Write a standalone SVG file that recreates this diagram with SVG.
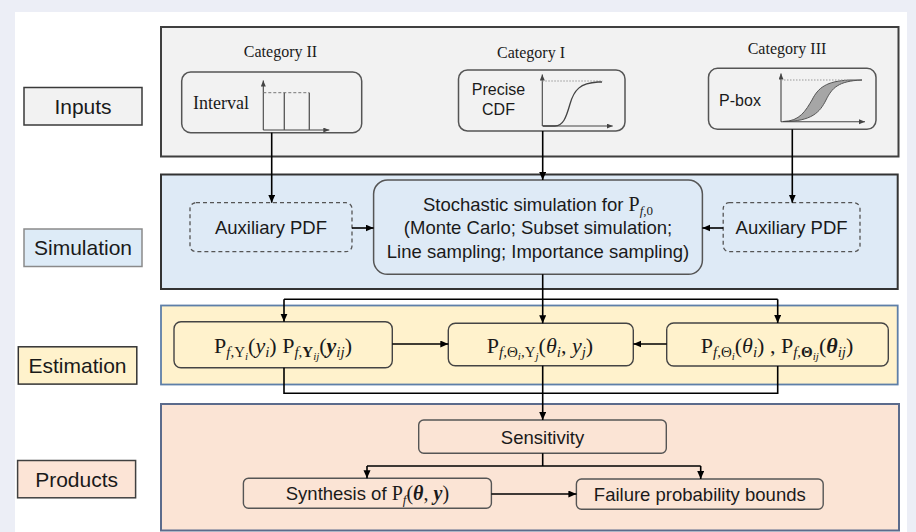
<svg xmlns="http://www.w3.org/2000/svg" width="916" height="532" viewBox="0 0 916 532">
<defs>
<marker id="ah" markerUnits="userSpaceOnUse" markerWidth="9" markerHeight="8" refX="8" refY="3.5" orient="auto">
<path d="M0,0 L8,3.5 L0,7 z" fill="#000"/>
</marker>
<marker id="sa" markerUnits="userSpaceOnUse" markerWidth="7" markerHeight="6" refX="6" refY="2.5" orient="auto">
<path d="M0,0 L6,2.5 L0,5 z" fill="#444"/>
</marker>
<style>
.sans{font-family:"Liberation Sans",Arial,sans-serif;fill:#1a1a1a}
.serif{font-family:"Liberation Serif","Times New Roman",serif;fill:#1a1a1a}
.lbl{font-size:21px}
.t{font-size:18.5px}
.m{font-family:"Liberation Serif","DejaVu Serif",serif;font-size:22px;fill:#1a1a1a}
.s{font-size:15px}
.ss{font-size:11px}
.it{font-style:italic}
.b{font-weight:bold}
.conn{fill:none;stroke:#000;stroke-width:1.6}
.ax{fill:none;stroke:#444;stroke-width:1.1}
.inbox{fill:#F2F2F2;stroke:#555;stroke-width:1.5}
.aux{fill:none;stroke:#555;stroke-width:1.3;stroke-dasharray:4 3}
.estbox{fill:#FFF2CC;stroke:#444;stroke-width:1.4}
.prbox{fill:#FBE4D5;stroke:#555;stroke-width:1.4}
</style>
</defs>
<rect x="0" y="0" width="916" height="532" fill="#ECEEF6"/>
<rect x="15" y="12" width="892" height="520" fill="#FFFFFF"/>

<!-- panels -->
<g id="panel-inputs"><rect x="161" y="27" width="737.5" height="129.5" fill="#F2F2F2" stroke="#3F3F3F" stroke-width="2"/></g>
<g id="panel-simulation"><rect x="161" y="174.5" width="736.7" height="114.5" fill="#DEEAF6" stroke="#333" stroke-width="2"/></g>
<g id="panel-estimation"><rect x="161" y="305.5" width="736.7" height="79" fill="#FFF2CC" stroke="#5E7FA8" stroke-width="1.8"/></g>
<g id="panel-products"><rect x="161" y="404" width="738" height="126.5" fill="#FBE4D5" stroke="#5B6B8C" stroke-width="2"/></g>

<!-- row labels -->
<g id="label-inputs"><rect x="24" y="87.5" width="118" height="37.5" fill="#F2F2F2" stroke="#3a3a3a" stroke-width="1.5"/><text class="sans lbl" x="83" y="113.5" text-anchor="middle">Inputs</text></g>
<g id="label-simulation"><rect x="24" y="229" width="118" height="37.5" fill="#DDEBF7" stroke="#8a8a8a" stroke-width="1.5"/><text class="sans lbl" x="83" y="255" text-anchor="middle">Simulation</text></g>
<g id="label-estimation"><rect x="18.3" y="346.8" width="118.5" height="37.3" fill="#FFF2CC" stroke="#333" stroke-width="1.5"/><text class="sans lbl" x="77.5" y="373" text-anchor="middle">Estimation</text></g>
<g id="label-products"><rect x="17.6" y="460.5" width="118" height="37.3" fill="#FCE4D6" stroke="#404040" stroke-width="1.5"/><text class="sans lbl" x="76.6" y="486.5" text-anchor="middle">Products</text></g>

<!-- inputs -->
<g id="cat2">
<text class="serif" font-size="16" x="280.5" y="57" text-anchor="middle">Category II</text>
<rect class="inbox" x="181.7" y="72" width="180" height="60.7" rx="9"/>
<text class="serif" font-size="18" x="193" y="109.3">Interval</text>
<path class="ax" d="M263.3,130 V80.5" marker-end="url(#sa)"/>
<path class="ax" d="M263.3,130 H329.3" marker-end="url(#sa)"/>
<path d="M263.3,92.7 H309.3" fill="none" stroke="#777" stroke-width="1" stroke-dasharray="3 2"/>
<path d="M284.3,92.7 V130 M309.3,92.7 V130" fill="none" stroke="#555" stroke-width="1.3"/>
</g>
<g id="cat1">
<text class="serif" font-size="16" x="531" y="57.5" text-anchor="middle">Category I</text>
<rect class="inbox" x="458.5" y="70" width="166.5" height="61" rx="9"/>
<text class="sans" font-size="16" x="498.5" y="95" text-anchor="middle">Precise</text>
<text class="sans" font-size="16" x="498.5" y="115" text-anchor="middle">CDF</text>
<path class="ax" d="M542.3,126 V74.5" marker-end="url(#sa)"/>
<path class="ax" d="M542.3,126 H612.7" marker-end="url(#sa)"/>
<path d="M542.3,81 H602.7" fill="none" stroke="#999" stroke-width="1" stroke-dasharray="1.5 1.5"/>
<path d="M543,126 L555,126 C563,126 566,118 570,104 C574,90 580,83 598,82 L602,82" fill="none" stroke="#444" stroke-width="1.3"/>
</g>
<g id="cat3">
<text class="serif" font-size="16" x="787" y="54" text-anchor="middle">Category III</text>
<rect class="inbox" x="708.5" y="68.3" width="167.5" height="61" rx="9"/>
<text class="sans" font-size="16" x="740" y="106" text-anchor="middle">P-box</text>
<path d="M783,121.5 C800,121.5 806,110 812,100 C818,88 826,81 850,80 L862,80 C838,81 832,88 826,100 C820,112 812,121.5 783,121.5 Z" fill="#A6A6A6" stroke="#555" stroke-width="1"/>
<path class="ax" d="M781,121.7 V73.5" marker-end="url(#sa)"/>
<path class="ax" d="M781,121.7 H865" marker-end="url(#sa)"/>
<path d="M781,80 H850" fill="none" stroke="#999" stroke-width="1" stroke-dasharray="1.5 1.5"/>
</g>

<!-- simulation -->
<g id="aux-left">
<rect class="aux" x="190" y="202.7" width="162" height="49" rx="6"/>
<text class="sans t" x="271" y="234" text-anchor="middle">Auxiliary PDF</text>
</g>
<g id="stochastic">
<rect x="373.6" y="180" width="328.8" height="94.3" rx="14" fill="#DEEAF6" stroke="#555" stroke-width="1.5"/>
<text x="538" y="210.5" text-anchor="middle"><tspan class="sans t">Stochastic simulation for </tspan><tspan class="m" style="font-size:20px">P</tspan><tspan class="m it" style="font-size:13px" dy="4">f</tspan><tspan class="m" style="font-size:13px">,0</tspan></text>
<text class="sans t" x="538" y="234.3" text-anchor="middle">(Monte Carlo; Subset simulation;</text>
<text class="sans t" x="538" y="257.7" text-anchor="middle">Line sampling; Importance sampling)</text>
</g>
<g id="aux-right">
<rect class="aux" x="723.2" y="202.7" width="136.8" height="49" rx="6"/>
<text class="sans t" x="791.6" y="234" text-anchor="middle">Auxiliary PDF</text>
</g>

<!-- estimation -->
<g id="est-left">
<rect class="estbox" x="174" y="321.7" width="218.3" height="46" rx="7"/>
<text class="m" x="283" y="353" text-anchor="middle">P<tspan class="it s" dy="4">f</tspan><tspan class="s">,Y</tspan><tspan class="it ss" dy="3">i</tspan><tspan dy="-7">(</tspan><tspan class="it">y</tspan><tspan class="it s" dy="4">i</tspan><tspan dy="-4">) P</tspan><tspan class="it s" dy="4">f</tspan><tspan class="s">,</tspan><tspan class="b s">Y</tspan><tspan class="it ss" dy="3">ij</tspan><tspan dy="-7">(</tspan><tspan class="it b">y</tspan><tspan class="it s" dy="4">ij</tspan><tspan dy="-4">)</tspan></text>
</g>
<g id="est-mid">
<rect class="estbox" x="448.3" y="323.3" width="185" height="42.4" rx="7"/>
<text class="m" x="540" y="353" text-anchor="middle">P<tspan class="it s" dy="4">f</tspan><tspan class="s">,Θ</tspan><tspan class="it ss" dy="3">i</tspan><tspan class="s" dy="-3">,Y</tspan><tspan class="it ss" dy="3">j</tspan><tspan dy="-7">(</tspan><tspan class="it">θ</tspan><tspan class="it s" dy="4">i</tspan><tspan dy="-4">, </tspan><tspan class="it">y</tspan><tspan class="it s" dy="4">j</tspan><tspan dy="-4">)</tspan></text>
</g>
<g id="est-right">
<rect class="estbox" x="666.7" y="323" width="221.6" height="43" rx="7"/>
<text class="m" x="777" y="353" text-anchor="middle">P<tspan class="it s" dy="4">f</tspan><tspan class="s">,Θ</tspan><tspan class="it ss" dy="3">i</tspan><tspan dy="-7">(</tspan><tspan class="it">θ</tspan><tspan class="it s" dy="4">i</tspan><tspan dy="-4">) , P</tspan><tspan class="it s" dy="4">f</tspan><tspan class="s">,</tspan><tspan class="b s">Θ</tspan><tspan class="it ss" dy="3">ij</tspan><tspan dy="-7">(</tspan><tspan class="it b">θ</tspan><tspan class="it s" dy="4">ij</tspan><tspan dy="-4">)</tspan></text>
</g>

<!-- products -->
<g id="sensitivity">
<rect class="prbox" x="418.7" y="420" width="247.6" height="33.3" rx="5"/>
<text class="sans t" x="542.5" y="443.5" text-anchor="middle">Sensitivity</text>
</g>
<g id="synthesis">
<rect class="prbox" x="243.4" y="478.3" width="248" height="30" rx="5"/>
<text x="367.4" y="500" text-anchor="middle"><tspan class="sans t">Synthesis of </tspan><tspan class="m" style="font-size:20px">P</tspan><tspan class="m it" style="font-size:13px" dy="4">f</tspan><tspan class="m" style="font-size:20px" dy="-4">(</tspan><tspan class="m it b" style="font-size:20px">θ</tspan><tspan class="m" style="font-size:20px">, </tspan><tspan class="m it b" style="font-size:20px">y</tspan><tspan class="m" style="font-size:20px">)</tspan></text>
</g>
<g id="bounds">
<rect class="prbox" x="576.4" y="479" width="246.8" height="30.3" rx="5"/>
<text class="sans t" x="699.8" y="501" text-anchor="middle">Failure probability bounds</text>
</g>

<!-- connectors -->
<g id="connectors">
<path class="conn" d="M271.7,132.7 V202.7" marker-end="url(#ah)"/>
<path class="conn" d="M542.7,131 V180" marker-end="url(#ah)"/>
<path class="conn" d="M792.3,129.3 V202.7" marker-end="url(#ah)"/>
<path class="conn" d="M352,228 H373.6" marker-end="url(#ah)"/>
<path class="conn" d="M723.2,228 H702.4" marker-end="url(#ah)"/>
<path class="conn" d="M542.7,274.3 V299.3 M284,299.3 H777.7"/>
<path class="conn" d="M284,299.3 V321.7" marker-end="url(#ah)"/>
<path class="conn" d="M542.7,299.3 V323.3" marker-end="url(#ah)"/>
<path class="conn" d="M777.7,299.3 V323" marker-end="url(#ah)"/>
<path class="conn" d="M392.3,344 H448.3" marker-end="url(#ah)"/>
<path class="conn" d="M666.7,344 H633.3" marker-end="url(#ah)"/>
<path class="conn" d="M284,367.7 V393.3 H777.7 V366 M542.7,365.7 V393.3"/>
<path class="conn" d="M542.7,393.3 V420" marker-end="url(#ah)"/>
<path class="conn" d="M542.7,453.3 V466 M367,466 H700.7"/>
<path class="conn" d="M367,466 V478.3" marker-end="url(#ah)"/>
<path class="conn" d="M700.7,466 V479" marker-end="url(#ah)"/>
<path class="conn" d="M491.4,494 H576.4" marker-end="url(#ah)"/>
</g>
</svg>
